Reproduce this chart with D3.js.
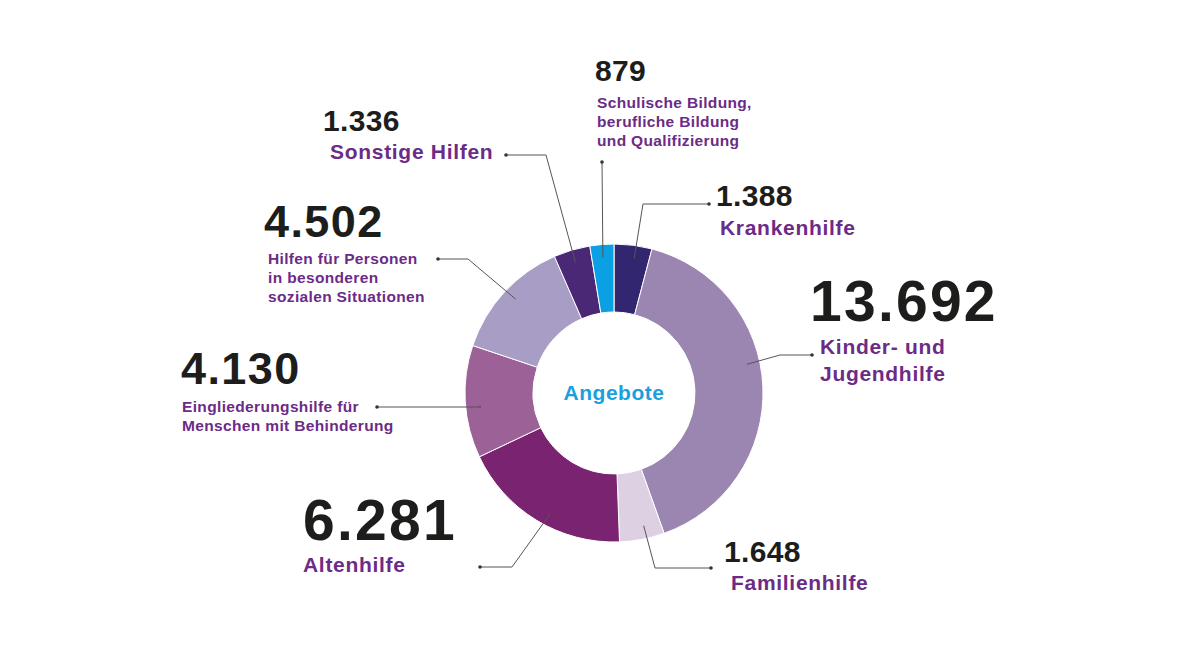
<!DOCTYPE html>
<html lang="de">
<head>
  <meta charset="UTF-8" />
  <title>Angebote</title>
  <script src="https://d3js.org/d3.v7.min.js"></script>
  <style>
    body {
      margin: 0;
      padding: 0;
      background: #fff;
      font-family: "Liberation Sans", Arial, Helvetica, sans-serif;
    }
    .value { fill: #1d1d1b; font-weight: bold; }
    .name { fill: #6b2b86; font-weight: bold; }
    .leader { fill: none; stroke: #555; stroke-width: 1; }
    .center-label { fill: #1aa0e0; font-weight: bold; }
  </style>
</head>
<body>
  <div id="chart"></div>

  <script>
    /*****************************************************************
     * Data (clockwise from 12 o'clock)
     *****************************************************************/
    const categories = [
      "Krankenhilfe",
      "Kinder- und Jugendhilfe",
      "Familienhilfe",
      "Altenhilfe",
      "Eingliederungshilfe für Menschen mit Behinderung",
      "Hilfen für Personen in besonderen sozialen Situationen",
      "Sonstige Hilfen",
      "Schulische Bildung, berufliche Bildung und Qualifizierung"
    ];
    const values = [1388, 13692, 1648, 6281, 4130, 4502, 1336, 879];
    const valueLabels = ["1.388", "13.692", "1.648", "6.281", "4.130", "4.502", "1.336", "879"];
    const nameLines = [
      ["Krankenhilfe"],
      ["Kinder- und", "Jugendhilfe"],
      ["Familienhilfe"],
      ["Altenhilfe"],
      ["Eingliederungshilfe für", "Menschen mit Behinderung"],
      ["Hilfen für Personen", "in besonderen", "sozialen Situationen"],
      ["Sonstige Hilfen"],
      ["Schulische Bildung,", "berufliche Bildung", "und Qualifizierung"]
    ];
    const colors = ["#31266f", "#9b86b2", "#ddd0e3", "#7a2370", "#9c6196", "#a89dc4", "#4b2875", "#0aa0e3"];

    /*****************************************************************
     * Layout
     *****************************************************************/
    const width = 1184;
    const height = 666;
    const cx = 614, cy = 393;
    const outerR = 149, innerR = 81;
    const leaderR = 136;

    // label block placement: value text, name text, leader dot and elbow
    const labelLayout = [
      { vx: 716, vy: 206, vs: 30, nx: 720, ny: 235, ns: 21, lh: 27, dot: [709, 204], elbowX: 643, angleNudge: 0.02 },
      { vx: 810, vy: 321, vs: 57, nx: 820, ny: 354, ns: 21, lh: 27, dot: [812, 355], elbowX: 780, angleNudge: -0.17 },
      { vx: 724, vy: 562, vs: 30, nx: 731, ny: 590, ns: 21, lh: 27, dot: [711, 568], elbowX: 655, angleNudge: -0.03 },
      { vx: 303, vy: 540, vs: 57, nx: 303, ny: 572, ns: 21, lh: 27, dot: [480, 567], elbowX: 512, angleNudge: -0.06 },
      { vx: 181, vy: 384, vs: 45, nx: 182, ny: 412, ns: 15.5, lh: 19, dot: [377, 407], elbowX: 481, angleNudge: -0.04 },
      { vx: 264, vy: 237, vs: 45, nx: 268, ny: 264, ns: 15.5, lh: 19, dot: [438, 259], elbowX: 468, angleNudge: 0.02 },
      { vx: 323, vy: 131, vs: 30, nx: 330, ny: 159, ns: 21, lh: 27, dot: [506, 155], elbowX: 546, angleNudge: 0 },
      { vx: 595, vy: 81, vs: 30, nx: 597, ny: 108, ns: 15.5, lh: 19, dot: [602, 162], elbowX: 602, angleNudge: 0 }
    ];

    // the original typeface runs a bit wider than Liberation Sans
    const valueSpacing = s => (s - 25) * 0.07;
    const nameSpacing = s => (s > 18 ? 0.7 : 0.35);

    const svg = d3.select("#chart")
      .append("svg")
      .attr("width", width)
      .attr("height", height);

    const data = values.map((v, i) => ({
      name: categories[i],
      value: v,
      label: valueLabels[i],
      lines: nameLines[i],
      color: colors[i],
      layout: labelLayout[i]
    }));

    const pie = d3.pie()
      .value(d => d.value)
      .sort(null);

    const arcs = pie(data);

    const arc = d3.arc()
      .innerRadius(innerR)
      .outerRadius(outerR);

    const g = svg.append("g")
      .attr("transform", `translate(${cx},${cy})`);

    g.selectAll("path.slice")
      .data(arcs)
      .enter()
      .append("path")
      .attr("class", "slice")
      .attr("d", arc)
      .attr("fill", d => d.data.color)
      .attr("stroke", "#fff")
      .attr("stroke-width", 1);

    // centre label
    g.append("text")
      .attr("class", "center-label")
      .attr("text-anchor", "middle")
      .attr("dy", "0.35em")
      .attr("font-size", 21)
      .attr("letter-spacing", 0.5)
      .text("Angebote");

    /*****************************************************************
     * Leader lines
     *****************************************************************/
    function innerPoint(d) {
      const a = (d.startAngle + d.endAngle) / 2 + d.data.layout.angleNudge;
      return [cx + leaderR * Math.sin(a), cy - leaderR * Math.cos(a)];
    }

    const line = d3.line();

    svg.selectAll("path.leader")
      .data(arcs)
      .enter()
      .append("path")
      .attr("class", "leader")
      .attr("d", d => {
        const L = d.data.layout;
        const p = innerPoint(d);
        return line([L.dot, [L.elbowX, L.dot[1]], p]);
      });

    svg.selectAll("circle.dot")
      .data(arcs)
      .enter()
      .append("circle")
      .attr("class", "dot")
      .attr("cx", d => d.data.layout.dot[0])
      .attr("cy", d => d.data.layout.dot[1])
      .attr("r", 1.8)
      .attr("fill", "#333");

    /*****************************************************************
     * Labels
     *****************************************************************/
    const labels = svg.selectAll("g.label")
      .data(arcs)
      .enter()
      .append("g")
      .attr("class", "label");

    labels.append("text")
      .attr("class", "value")
      .attr("x", d => d.data.layout.vx)
      .attr("y", d => d.data.layout.vy)
      .attr("font-size", d => d.data.layout.vs)
      .attr("letter-spacing", d => valueSpacing(d.data.layout.vs))
      .text(d => d.data.label);

    labels.append("text")
      .attr("class", "name")
      .attr("font-size", d => d.data.layout.ns)
      .attr("letter-spacing", d => nameSpacing(d.data.layout.ns))
      .each(function(d) {
        const L = d.data.layout;
        d3.select(this).selectAll("tspan")
          .data(d.data.lines)
          .enter()
          .append("tspan")
          .attr("x", L.nx)
          .attr("y", (t, i) => L.ny + i * L.lh)
          .text(t => t);
      });
  </script>
</body>
</html>
